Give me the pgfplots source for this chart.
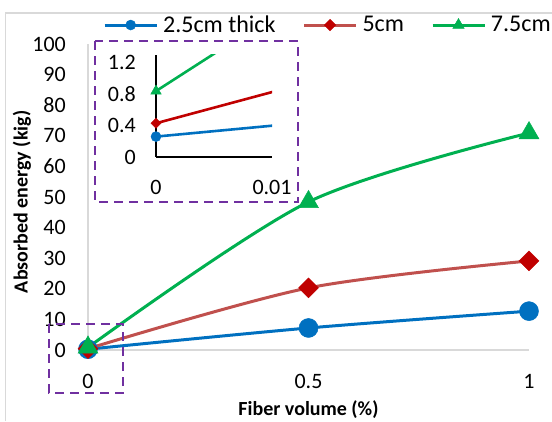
\documentclass[border=0pt]{standalone}
\usepackage{pgfplots}
\pgfplotsset{compat=1.18}
\usepackage{fontspec}
\setmainfont{Carlito}
\definecolor{cblue}{HTML}{0070C0}
\definecolor{cred}{HTML}{C0504D}
\definecolor{cdred}{HTML}{C00000}
\definecolor{cgreen}{HTML}{00B050}
\definecolor{cpurple}{HTML}{7030A0}
\definecolor{cgrid}{HTML}{D9D9D9}
\begin{document}
\begin{tikzpicture}[x=1bp,y=1bp]
\path[use as bounding box] (0,0) rectangle (552,421);
\draw[cgrid, line width=1.5bp] (5.5,0) -- (5.5,408) -- (552,408);
% main axis
\begin{axis}[
  at={(88bp,71bp)}, anchor=south west, scale only axis,
  width=441bp, height=306bp,
  xmin=0, xmax=1, ymin=0, ymax=100,
  clip=false,
  axis lines=left,
  axis line style={draw=cgrid, line width=1.5bp, -},
  major tick length=0pt,
  xtick={0,0.5,1}, xticklabels={0,0.5,1},
  ytick={0,10,...,100},
  /pgf/number format/assume math mode=true,
  tick label style={font=\fontsize{22bp}{26bp}\selectfont, inner sep=0pt},
  yticklabel style={anchor=east, xshift=-22bp},
  xticklabel style={anchor=center, yshift=-31bp},
  xlabel={Fiber volume (\%)},
  ylabel={Absorbed energy (kig)},
  label style={font=\fontsize{20bp}{24bp}\selectfont\bfseries},
  xlabel style={at={(axis description cs:0.5,0)}, anchor=center, yshift=-60bp},
  ylabel style={at={(axis description cs:-0.1497,0.484)}, anchor=center},
  legend columns=3,
  legend style={draw=none, fill=none, inner sep=0pt,
    at={(rel axis cs:0.034,1.062)}, anchor=west,
    font=\fontsize{24bp}{28bp}\selectfont,
    /tikz/every odd column/.append style={column sep=3bp},
    /tikz/every even column/.append style={column sep=25bp}},
  legend image code/.code={\draw[mark repeat=2,mark phase=2] plot coordinates {(0bp,0bp) (26bp,0bp) (52bp,0bp)};},
]
\addplot[color=cblue, line width=3bp, smooth, mark=*, mark size=9.5bp,
  mark options={fill=cblue, draw=cblue, line width=0.5bp},
  legend image post style={mark size=5bp}]
  coordinates {(0,0.26) (0.5,7.2) (1,12.7)};
\addlegendentry{2.5cm thick}
\addplot[color=cred, line width=3bp, smooth, mark=square*, mark size=7bp,
  mark options={fill=cdred, draw=cdred, rotate=45, line width=0.5bp},
  legend image post style={mark size=4bp}]
  coordinates {(0,0.43) (0.5,20.3) (1,29.1)};
\addlegendentry{5cm}
\addplot[color=cgreen, line width=3bp, smooth, mark=triangle*, mark size=11.5bp,
  mark options={fill=cgreen, draw=cgreen, line width=0.5bp},
  legend image post style={mark size=6.5bp}]
  coordinates {(0,0.84) (0.5,48.4) (1,70.9)};
\addlegendentry{7.5cm}
\end{axis}
% inset axis
\begin{axis}[
  at={(156bp,264bp)}, anchor=south west, scale only axis,
  width=116bp, height=102bp,
  xmin=0, xmax=0.01, ymin=0, ymax=1.3,
  scaled x ticks=false, scaled y ticks=false,
  clip mode=individual,
  axis lines=left,
  axis line style={draw=black, line width=1.2bp, -},
  major tick length=0pt,
  xtick={0,0.01}, xticklabels={0,0.01},
  ytick={0,0.4,0.8,1.2}, yticklabels={0,0.4,0.8,1.2},
  tick label style={font=\fontsize{22bp}{26bp}\selectfont, inner sep=0pt},
  yticklabel style={anchor=east, xshift=-20bp},
  xticklabel style={anchor=center, yshift=-30bp},
]
\addplot[color=cblue, line width=2.6bp, mark=*, mark size=5bp, mark indices={1},
  mark options={fill=cblue, draw=cblue, line width=0.5bp}]
  coordinates {(0,0.26) (0.5,7.2)};
\addplot[color=cdred, line width=2.6bp, mark=square*, mark size=3.5bp, mark indices={1},
  mark options={fill=cdred, draw=cdred, rotate=45, line width=0.5bp}]
  coordinates {(0,0.43) (0.5,20.3)};
\addplot[color=cgreen, line width=2.6bp, mark=triangle*, mark size=6bp, mark indices={1},
  mark options={fill=cgreen, draw=cgreen, line width=0.5bp}]
  coordinates {(0,0.84) (0.5,48.4)};
\end{axis}
% dashed highlight boxes
\draw[cpurple, line width=2.5bp, dash pattern=on 9bp off 6bp] (95,380) rectangle (298,219);
\draw[cpurple, line width=2.5bp, dash pattern=on 9bp off 6bp] (49,97) rectangle (123,28);
\end{tikzpicture}
\end{document}
